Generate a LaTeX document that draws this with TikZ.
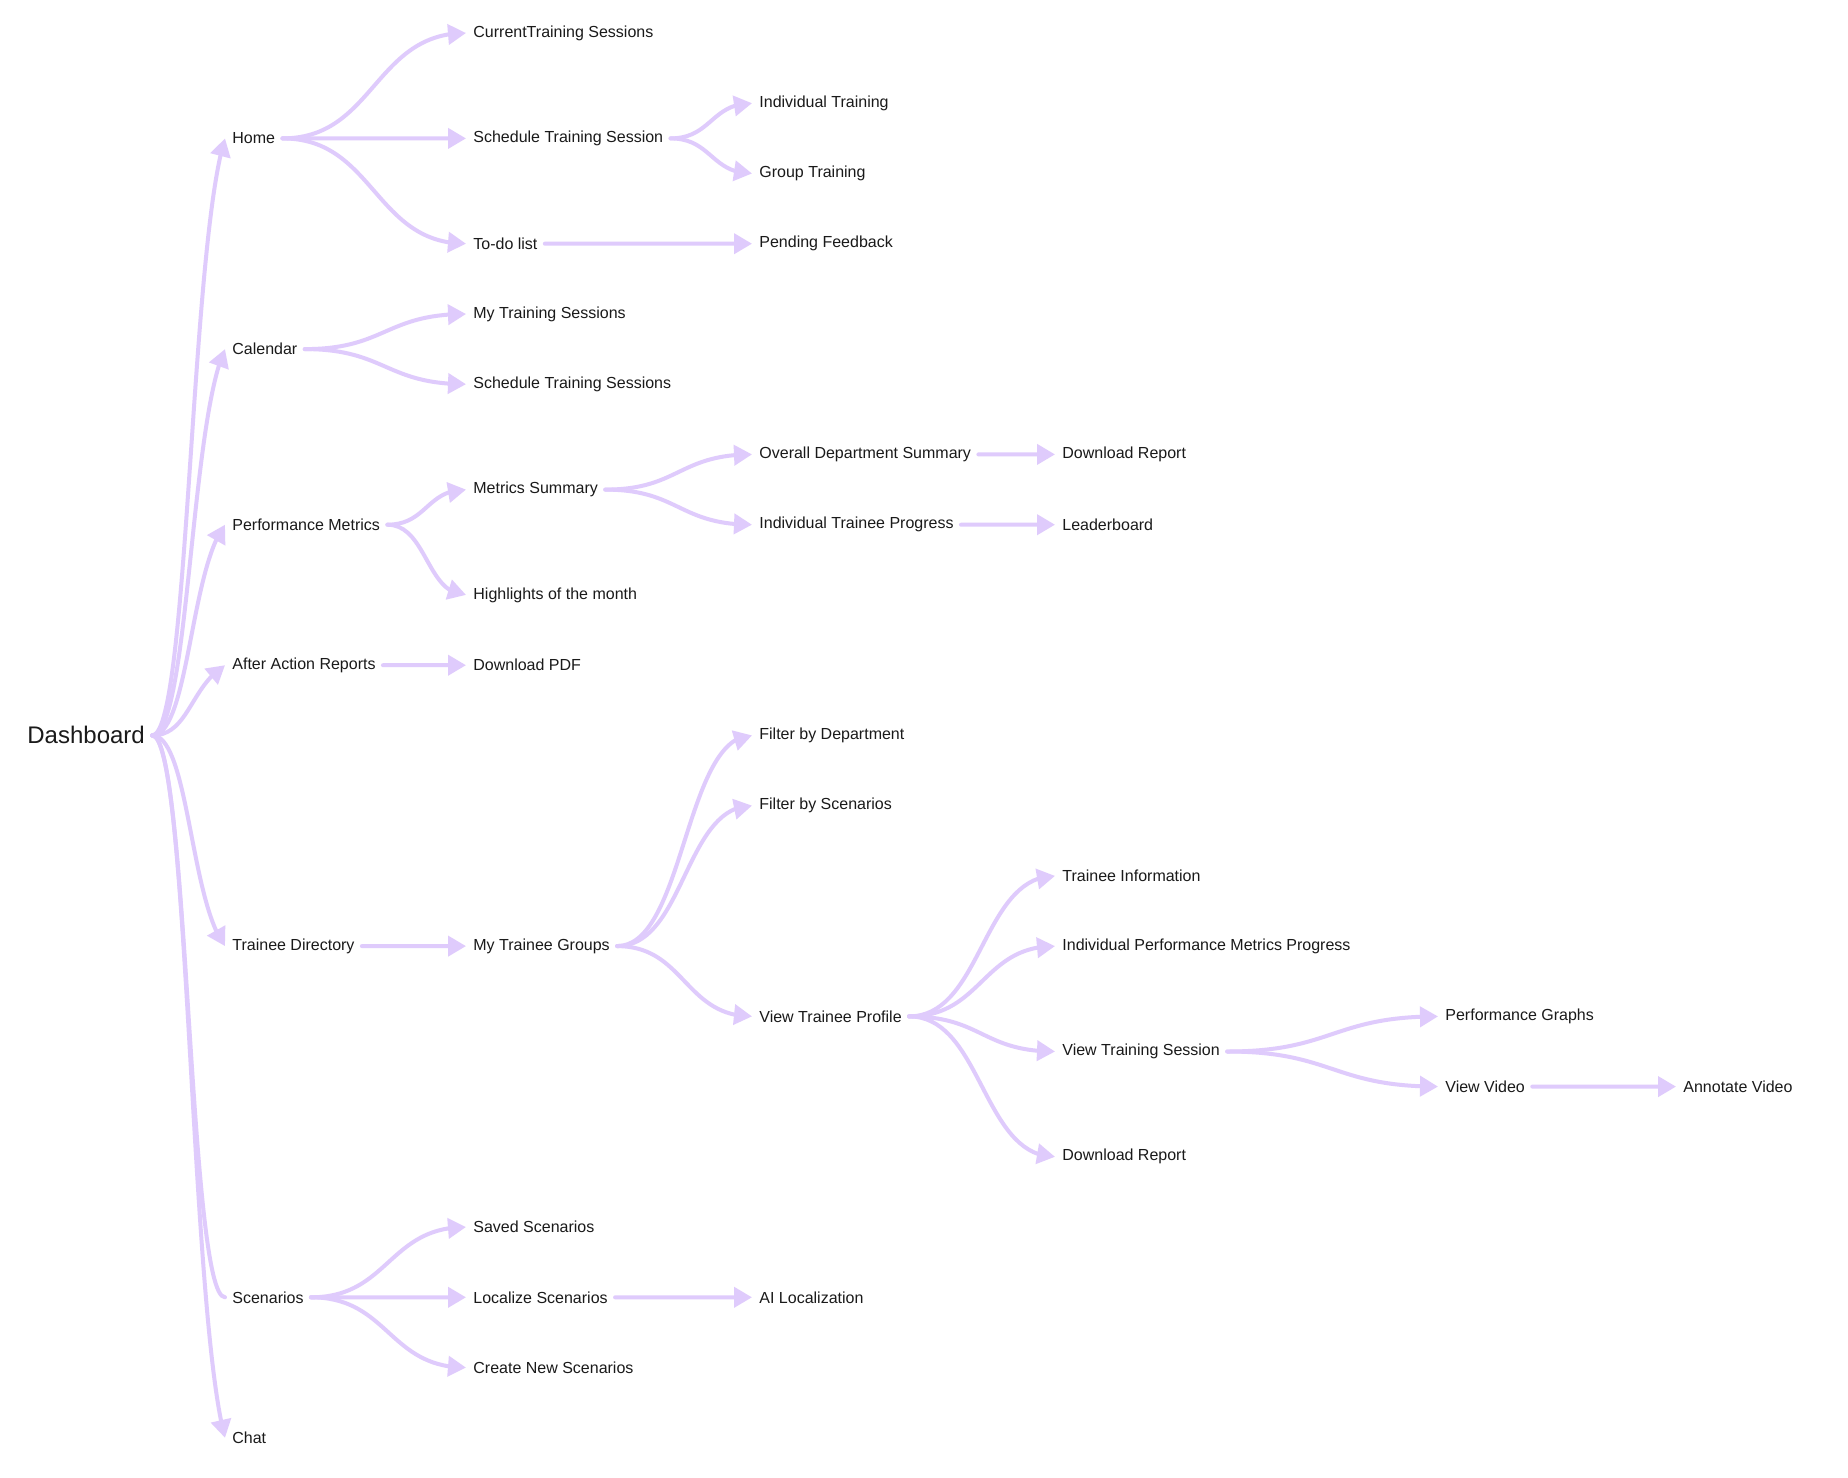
\documentclass[tikz,border=0pt]{standalone}
\usepackage{fontspec}
\setmainfont{Liberation Sans}
\usetikzlibrary{arrows.meta,bending,calc}
\definecolor{linec}{HTML}{DFCBFC}
\definecolor{textc}{HTML}{1A1A1A}
\tikzset{
  lbl/.style={anchor=west, inner xsep=3.5pt, inner ysep=1pt, text=textc, font=\fontsize{8}{9.6}\selectfont},
  big/.style={font=\fontsize{12}{14}\selectfont},
  sc/.style={to path={let \p1=(\tikztostart), \p2=(\tikztotarget) in .. controls ({(\x1+\x2)/2},\y1) and ({(\x1+\x2)/2},\y2) .. (\tikztotarget) \tikztonodes}},
  dc/.style={to path={let \p1=(\tikztostart), \p2=(\tikztotarget) in .. controls ({(\x1+\x2)/2},\y1) and ({\x2-17.5pt},{\y2+0.17*(\y1-\y2)+5pt*sign(\y1-\y2)}) .. (\tikztotarget) \tikztonodes}},
  plainlink/.style={draw=linec, line width=2pt, line cap=round},
  link/.style={plainlink, -{Triangle[length=9pt,width=10pt,flex]}, sc},
  dlink/.style={plainlink, -{Triangle[length=9pt,width=10pt]}, dc}
}
\begin{document}
\begin{tikzpicture}[x=0.5pt,y=-0.5pt]
\fill[white] (0,0) rectangle (1848,1478);
\useasboundingbox (0,0) rectangle (1848,1478);
% level 0
\node[lbl,big] (dash) at (20,735.4) {Dashboard};
% level 1
\node[lbl] (home) at (225,138.4) {Home};
\node[lbl] (cal) at (225,349.1) {Calendar};
\node[lbl] (perf) at (225,524.7) {Performance Metrics};
\node[lbl] (aar) at (225,665.2) {After Action Reports};
\node[lbl] (tdir) at (225,946.1) {Trainee Directory};
\node[lbl] (scen) at (225,1297.3) {Scenarios};
\node[lbl] (chat) at (225,1437.8) {Chat};
% level 2
\node[lbl] (cts) at (466,33) {CurrentTraining Sessions};
\node[lbl] (sts) at (466,138.4) {Schedule Training Session};
\node[lbl] (todo) at (466,243.7) {To-do list};
\node[lbl] (myts) at (466,314) {My Training Sessions};
\node[lbl] (schts) at (466,384.2) {Schedule Training Sessions};
\node[lbl] (msum) at (466,489.6) {Metrics Summary};
\node[lbl] (high) at (466,594.9) {Highlights of the month};
\node[lbl] (pdf) at (466,665.2) {Download PDF};
\node[lbl] (mtg) at (466,946.1) {My Trainee Groups};
\node[lbl] (saved) at (466,1227) {Saved Scenarios};
\node[lbl] (local) at (466,1297.3) {Localize Scenarios};
\node[lbl] (create) at (466,1367.6) {Create New Scenarios};
% level 3
\node[lbl] (indiv) at (752,103.2) {Individual Training};
\node[lbl] (group) at (752,173.5) {Group Training};
\node[lbl] (pend) at (752,243.7) {Pending Feedback};
\node[lbl] (ods) at (752,454.4) {Overall Department Summary};
\node[lbl] (itp) at (752,524.7) {Individual Trainee Progress};
\node[lbl] (fdept) at (752,735.4) {Filter by Department};
\node[lbl] (fscen) at (752,805.6) {Filter by Scenarios};
\node[lbl] (vtp) at (752,1016.4) {View Trainee Profile};
\node[lbl] (ai) at (752,1297.3) {AI Localization};
% level 4
\node[lbl] (dr1) at (1055,454.4) {Download Report};
\node[lbl] (lead) at (1055,524.7) {Leaderboard};
\node[lbl] (tinfo) at (1055,875.9) {Trainee Information};
\node[lbl] (ipmp) at (1055,946.1) {Individual Performance Metrics Progress};
\node[lbl] (vts) at (1055,1051.5) {View Training Session};
\node[lbl] (dr2) at (1055,1156.8) {Download Report};
% level 5
\node[lbl] (pg) at (1438,1016.4) {Performance Graphs};
\node[lbl] (vv) at (1438,1086.6) {View Video};
% level 6
\node[lbl] (annot) at (1676,1086.6) {Annotate Video};
% connectors
\foreach \t in {home,cal,perf,aar,tdir,chat} \draw[dlink] (dash.east) to (\t.west);
\draw[plainlink, sc] (dash.east) to (scen.west);
\foreach \t in {cts,sts,todo} \draw[link] (home.east) to (\t.west);
\foreach \t in {indiv,group} \draw[link] (sts.east) to (\t.west);
\draw[link] (todo.east) to (pend.west);
\foreach \t in {myts,schts} \draw[link] (cal.east) to (\t.west);
\foreach \t in {msum,high} \draw[link] (perf.east) to (\t.west);
\foreach \t in {ods,itp} \draw[link] (msum.east) to (\t.west);
\draw[link] (ods.east) to (dr1.west);
\draw[link] (itp.east) to (lead.west);
\draw[link] (aar.east) to (pdf.west);
\draw[link] (tdir.east) to (mtg.west);
\foreach \t in {fdept,fscen,vtp} \draw[link] (mtg.east) to (\t.west);
\foreach \t in {tinfo,ipmp,vts,dr2} \draw[link] (vtp.east) to (\t.west);
\foreach \t in {pg,vv} \draw[link] (vts.east) to (\t.west);
\draw[link] (vv.east) to (annot.west);
\foreach \t in {saved,local,create} \draw[link] (scen.east) to (\t.west);
\draw[link] (local.east) to (ai.west);
\end{tikzpicture}
\end{document}
